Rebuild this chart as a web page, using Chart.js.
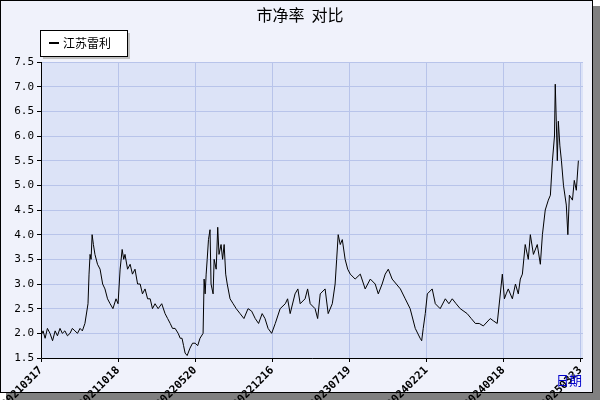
<!DOCTYPE html>
<html><head><meta charset="utf-8">
<script src="https://cdn.jsdelivr.net/npm/chart.js@4/dist/chart.umd.min.js"></script>
<style>html,body{margin:0;padding:0;background:#fff}</style>
</head><body>
<canvas id="c" width="600" height="400" style="width:600px;height:400px"></canvas>
<script>
const tickLabels=["20210317","20211018","20220520","20221216","20230719","20240221","20240918","20250323"];
const tickWeeks=[0,30,60,90,120,150,180,210];
const weeks=[0,0.8,1.6,2.5,3.5,4.5,5.5,6.4,7.4,8.3,9.3,10.3,11.3,12.2,13.2,14.2,15.2,16.1,17.1,18.3,18.7,19.1,19.5,19.9,20.4,21,22,23,24,24.9,25.9,26.9,28,29.2,30,30.8,31.6,32.2,32.7,33.7,34.7,35.6,36.6,37.6,38.6,39.5,40.5,41.5,42.5,43.4,44.4,45.6,47,48.3,49.3,50.3,51.2,52.2,53.4,54.2,54.9,55.5,56.1,56.9,58,59,60,61,61.9,63.1,63.5,63.9,64.3,64.7,65.2,65.8,66.2,66.6,67,67.4,68.2,68.8,69.3,70.1,70.7,71.3,71.9,72.5,73.6,74.8,76,77.5,79,80.6,82,83.4,84.7,86.1,87.2,88.4,89.8,91.2,93.1,95.1,96,97,98.9,100,100.9,102.8,103.8,104.8,106.7,107.7,108.7,110.6,111.8,113.4,114.5,115.1,115.7,116.5,117.3,118.4,119.4,120.4,122.3,124.3,126.2,128.2,130.1,131.3,132.8,134,135.2,136.7,138.3,139.9,141.8,143.7,145.7,147.6,148.2,148.8,149.6,150.4,152.3,153.5,155.4,157.4,158.8,160.1,161.6,163.2,165.9,167.5,169.1,170.6,172.2,174.9,176.2,177.6,179.6,180.4,181.1,181.9,183.5,184.7,185.8,186.6,187.4,188.5,189.7,190.5,191.7,193.2,194.4,195.2,196.3,197.5,198.3,199.1,199.9,200.2,200.6,201,201.4,202,202.6,203.4,204.5,205.1,205.7,206.9,207.6,208.4,209.2,210,210.8];
const pbValues=[1.95,2.05,1.9,2.1,2.0,1.85,2.05,1.95,2.1,2.0,2.05,1.95,2.0,2.1,2.05,2.0,2.1,2.05,2.2,2.6,3.2,3.6,3.5,4.0,3.8,3.6,3.4,3.3,3.0,2.9,2.7,2.6,2.5,2.7,2.6,3.3,3.7,3.5,3.6,3.3,3.4,3.2,3.3,3.0,3.0,2.8,2.9,2.7,2.7,2.5,2.6,2.5,2.6,2.4,2.3,2.2,2.1,2.1,2.0,1.9,1.9,1.75,1.6,1.55,1.7,1.8,1.8,1.75,1.9,2.0,3.1,2.8,3.2,3.5,3.9,4.1,3.0,2.9,2.8,3.5,3.3,4.15,3.6,3.8,3.5,3.8,3.2,3.0,2.7,2.6,2.5,2.4,2.3,2.5,2.45,2.3,2.2,2.4,2.3,2.1,2.0,2.2,2.5,2.6,2.7,2.4,2.8,2.9,2.6,2.7,2.9,2.6,2.5,2.3,2.8,2.9,2.4,2.6,3.0,3.5,4.0,3.8,3.9,3.5,3.3,3.2,3.1,3.2,2.9,3.1,3.0,2.8,3.0,3.2,3.3,3.1,3.0,2.9,2.7,2.5,2.1,1.9,1.85,2.1,2.4,2.8,2.9,2.6,2.5,2.7,2.6,2.7,2.6,2.5,2.4,2.3,2.2,2.2,2.15,2.3,2.25,2.2,3.2,2.7,2.8,2.9,2.7,3.0,2.8,3.1,3.2,3.8,3.5,4.0,3.6,3.8,3.4,4.0,4.5,4.7,4.8,5.5,6.0,7.05,6.3,5.5,6.3,5.8,5.5,5.0,4.6,4.0,4.8,4.7,5.1,4.9,5.5];
const pts=weeks.map((w,i)=>({x:w,y:pbValues[i]}));
const deco={id:'deco',
beforeDraw(ch){const c=ch.ctx;c.save();
c.fillStyle='#fff';c.fillRect(0,0,600,400);
c.fillStyle='#808080';c.fillRect(6,6,594,394);
c.fillStyle='#f0f2fb';c.fillRect(0,0,593,393);
c.strokeStyle='#000';c.lineWidth=1;c.strokeRect(0.5,0.5,592,392);
const a=ch.chartArea;c.fillStyle='#dce3f7';c.fillRect(a.left,a.top,a.right-a.left,a.bottom-a.top);
c.restore();},
afterDraw(ch){const c=ch.ctx;c.save();const a=ch.chartArea;
c.strokeStyle='#000';c.lineWidth=1;c.beginPath();c.moveTo(a.left+0.5,a.top);c.lineTo(a.left+0.5,a.bottom+0.5);c.lineTo(a.right,a.bottom+0.5);c.stroke();
c.fillStyle='#000';c.font='16px "Noto Sans CJK SC"';c.textAlign='center';c.textBaseline='middle';c.fillText('市净率  对比',300,15);
c.fillStyle='#c0c0c0';c.fillRect(43,33,87,26);
c.fillStyle='#fff';c.fillRect(40,30,87,26);c.strokeStyle='#000';c.strokeRect(40.5,30.5,87,26);
c.fillStyle='#000';c.fillRect(49,42,10,2);
c.font='12px "Noto Sans CJK SC"';c.textAlign='left';c.fillText('江苏雷利',63,43);
c.fillStyle='#0000cc';c.font='13px "Noto Sans CJK SC"';c.fillText('日期',556,380);
c.restore();}};
new Chart(document.getElementById('c'),{type:'line',
data:{datasets:[{data:pts,borderColor:'#000',borderWidth:1,pointRadius:0,tension:0}]},
options:{responsive:false,animation:false,devicePixelRatio:1,
layout:{padding:{top:62,right:17,left:0,bottom:0}},
plugins:{legend:{display:false},title:{display:false},tooltip:{enabled:false}},
scales:{
x:{type:'linear',min:0,max:211,afterFit(s){s.height=42;},
afterBuildTicks(s){s.ticks=tickWeeks.map(v=>({value:v}));},
grid:{color:'#b8c4ea',drawTicks:true,tickLength:4,tickColor:'#000'},border:{display:false},
ticks:{autoSkip:false,maxRotation:45,minRotation:45,color:'#000',font:{size:11,family:'DejaVu Sans Mono',weight:'bold'},padding:2,
callback:(v)=>{const i=tickWeeks.indexOf(v);return i>=0?tickLabels[i]:'';}}},
y:{min:1.5,max:7.5,afterFit(s){s.width=41;},
grid:{color:'#b8c4ea',tickLength:4,tickColor:'#000'},border:{display:false},
ticks:{stepSize:0.5,color:'#000',font:{size:11,family:'DejaVu Sans Mono'},padding:3,callback:v=>v.toFixed(1)}}}},
plugins:[deco]});
</script></body></html>
